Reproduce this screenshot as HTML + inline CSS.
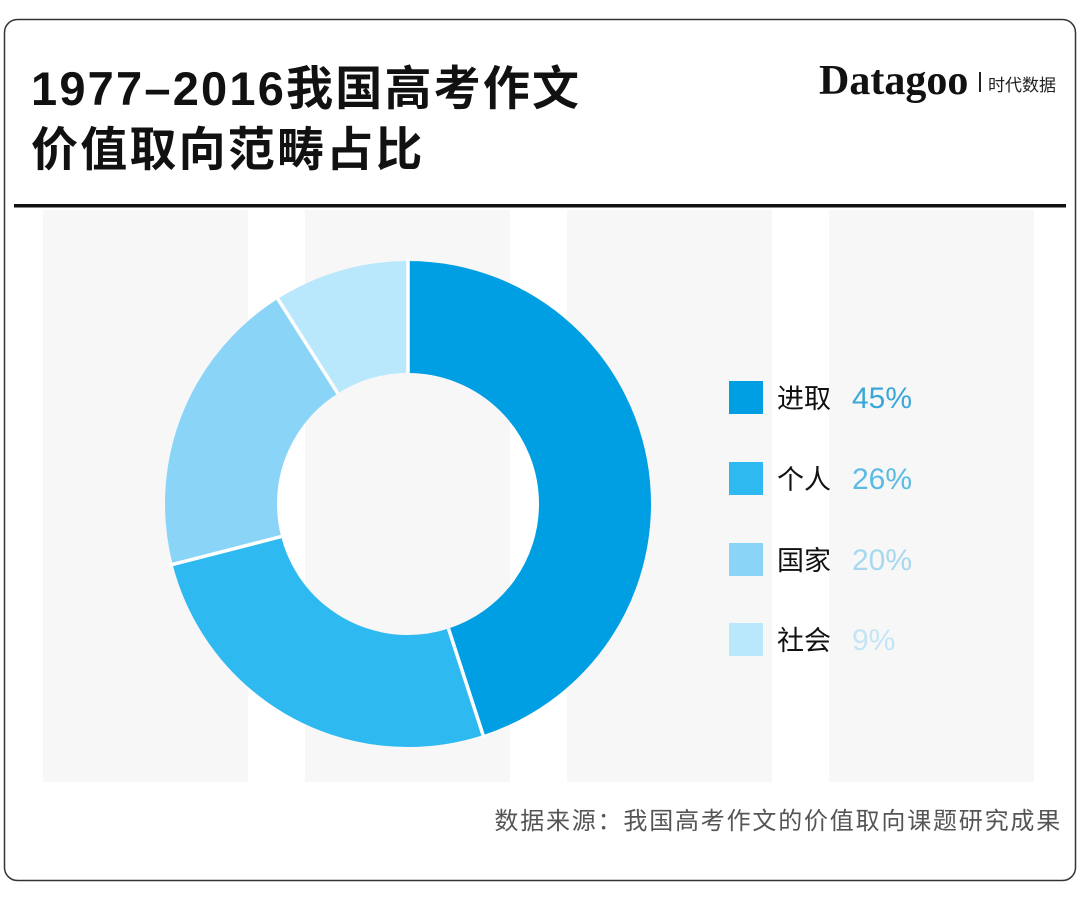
<!DOCTYPE html>
<html><head><meta charset="utf-8"><style>
body{margin:0;background:#fff;}
.wrap{position:relative;width:1080px;height:897px;overflow:hidden;font-family:"Liberation Sans","Noto Sans CJK SC",sans-serif;}
</style></head><body><div class="wrap">
<svg width="1080" height="897" viewBox="0 0 1080 897" style="position:absolute;left:0;top:0">
<rect x="4.5" y="19.5" width="1071" height="861" rx="13" fill="#fff" stroke="#333" stroke-width="1.5"/>
<g fill="#f7f7f7">
<rect x="43" y="210" width="205" height="572"/>
<rect x="305" y="210" width="205" height="572"/>
<rect x="567" y="210" width="205" height="572"/>
<rect x="829" y="210" width="205" height="572"/>
</g>
<rect x="14" y="204" width="1052" height="3.5" fill="#111"/>
<g transform="rotate(-90 408 504)" fill="none" stroke-width="112">
<circle cx="408" cy="504" r="187" stroke="#009fe3" stroke-dasharray="528.73 2000" stroke-dashoffset="0"/>
<circle cx="408" cy="504" r="187" stroke="#2fb9f1" stroke-dasharray="305.49 2000" stroke-dashoffset="-528.73"/>
<circle cx="408" cy="504" r="187" stroke="#8ad5f7" stroke-dasharray="235 2000" stroke-dashoffset="-834.22"/>
<circle cx="408" cy="504" r="187" stroke="#b9e7fb" stroke-dasharray="140.74 2000" stroke-dashoffset="-1069.22"/>
</g>
<g stroke="#fff" stroke-width="3.5">
<line x1="408" y1="373" x2="408" y2="258"/>
<line x1="408" y1="373" x2="408" y2="258" transform="rotate(162 408 504)"/>
<line x1="408" y1="373" x2="408" y2="258" transform="rotate(255.6 408 504)"/>
<line x1="408" y1="373" x2="408" y2="258" transform="rotate(327.6 408 504)"/>
</g>
<rect x="729" y="381" width="34" height="33" fill="#009fe3"/>
<rect x="729" y="462" width="34" height="33" fill="#2fb9f1"/>
<rect x="729" y="543" width="34" height="33" fill="#8ad5f7"/>
<rect x="729" y="623" width="34" height="33" fill="#b9e7fb"/>
<g font-family="Liberation Sans, Noto Sans CJK SC, sans-serif" font-size="27">
<text x="777" y="408" fill="#111">进取</text><text x="852" y="408" fill="#3aa7d8" font-size="30">45%</text>
<text x="777" y="489" fill="#111">个人</text><text x="852" y="489" fill="#5bbbe4" font-size="30">26%</text>
<text x="777" y="570" fill="#111">国家</text><text x="852" y="570" fill="#a6d8f0" font-size="30">20%</text>
<text x="777" y="650" fill="#111">社会</text><text x="852" y="650" fill="#c3e5f5" font-size="30">9%</text>
</g>
<g font-family="Liberation Sans, Noto Sans CJK SC, sans-serif" font-weight="bold" font-size="47" fill="#111" letter-spacing="2.2">
<text x="31" y="105">1977–2016我国高考作文</text>
<text x="31" y="166">价值取向范畴占比</text>
</g>
<text x="819" y="94" font-family="Liberation Serif, serif" font-size="42" font-weight="bold" fill="#111">Datagoo</text>
<rect x="979" y="72" width="2" height="20" fill="#222"/>
<text x="988" y="91" font-family="Liberation Sans, Noto Sans CJK SC, sans-serif" font-size="17" fill="#222">时代数据</text>
<text x="1062" y="829" text-anchor="end" font-family="Liberation Sans, Noto Sans CJK SC, sans-serif" font-size="24" letter-spacing="1.8" fill="#555">数据来源：我国高考作文的价值取向课题研究成果</text>
</svg>
</div></body></html>
